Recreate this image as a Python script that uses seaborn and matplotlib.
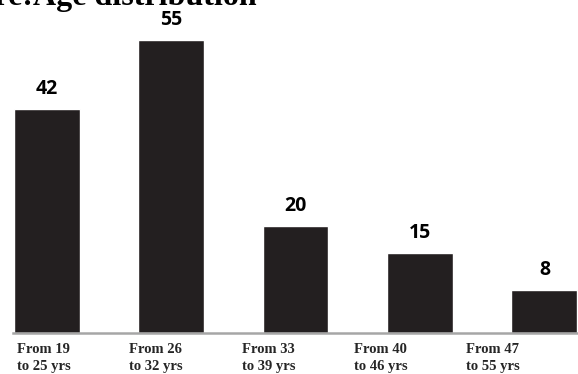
import matplotlib
matplotlib.use("Agg")
import matplotlib.pyplot as plt
import matplotlib.transforms as mtransforms
import pandas as pd
import seaborn as sns

# data
age_groups = ["From 19\nto 25 yrs", "From 26\nto 32 yrs", "From 33\nto 39 yrs",
              "From 40\nto 46 yrs", "From 47\nto 55 yrs"]
counts = [42, 55, 20, 15, 8]
title = "Figure:Age distribution"

sns.set_style("white")
plt.rcParams["font.family"] = ["DejaVu Sans"]

df = pd.DataFrame({"Age group": age_groups, "Count": counts})

fig = plt.figure(figsize=(5.78, 3.74), dpi=100)
W, H = 578, 374
ax = fig.add_axes([13 / W, (H - 333) / H, (W - 13) / W, 333 / H])

sns.barplot(df, x="Age group", y="Count", color="#231f20", saturation=1,
            width=0.53, ax=ax)

ax.set_xlim(-0.27, 4.27)
ax.set_ylim(0, 62.5)
ax.set_xlabel("")
ax.set_ylabel("")
ax.set_yticks([])

for s in ["top", "right", "left"]:
    ax.spines[s].set_visible(False)
ax.spines["bottom"].set_color("#a6a6a6")
ax.spines["bottom"].set_linewidth(1.8)
ax.tick_params(axis="x", length=0, pad=7)

# value labels above bars
for bar, v in zip(ax.patches, counts):
    ax.annotate(str(v), (bar.get_x() + bar.get_width() / 2, bar.get_height()),
                xytext=(0, 11), textcoords="offset points", ha="center",
                va="baseline", fontsize=14, fontweight="bold",
                family="Open Sans", color="black")

# x tick labels: bold serif, drifting left of the bars like the original
for i, lab in enumerate(ax.get_xticklabels()):
    lab.set_fontfamily("Liberation Serif")
    lab.set_fontweight("bold")
    lab.set_fontsize(10.5)
    lab.set_linespacing(1.4)
    lab.set_horizontalalignment("left")
    shift = (-30 - 12 * i) / 100
    lab.set_transform(lab.get_transform() +
                      mtransforms.ScaledTranslation(shift, 0, fig.dpi_scale_trans))

# title, cut off at the top-left like the reference
fig.text(257 / W, 1 - 5 / H, title, ha="right", va="baseline",
         fontsize=23, fontweight="bold", family="Liberation Serif", color="black")

fig.savefig("out.png", dpi=100)
